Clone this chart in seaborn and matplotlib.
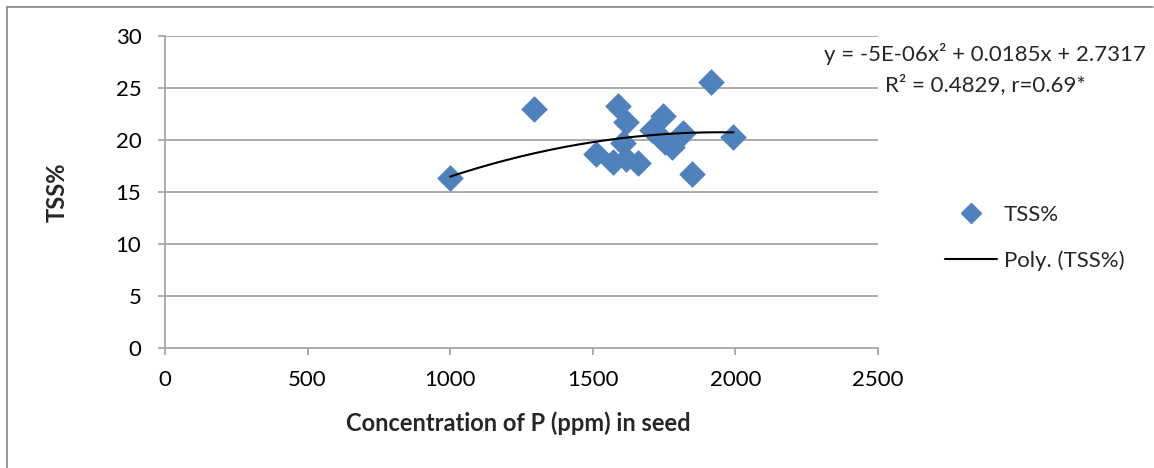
import numpy as np
import pandas as pd
import matplotlib
matplotlib.use("Agg")
import matplotlib.pyplot as plt
from matplotlib.lines import Line2D
import seaborn as sns

# Data
p_conc = [1000, 1295, 1511, 1570, 1590, 1607, 1618, 1618, 1660, 1706,
          1736, 1745, 1753, 1777, 1817, 1847, 1915, 1993]
tss = [16.3, 23.0, 18.7, 17.9, 23.3, 19.7, 21.7, 18.2, 17.75, 21.0,
       20.3, 22.3, 19.8, 19.3, 20.7, 16.7, 25.6, 20.25]

# Polynomial trendline coefficients (as drawn in the reference: a, b, c)
trend_coef = [-4.75e-06, 0.0185, 2.7317]

x_ticks = [0, 500, 1000, 1500, 2000, 2500]
y_ticks = [0, 5, 10, 15, 20, 25, 30]
x_label = "Concentration of P (ppm) in seed"
y_label = "TSS%"
eq_text = "y = -5E-06x² + 0.0185x + 2.7317\nR² = 0.4829, r=0.69*"

sns.set_theme(style="white")
plt.rcParams['font.family'] = ['Lato', 'DejaVu Sans']

FS = 16
df = pd.DataFrame({"P": p_conc, "TSS": tss})

fig = plt.figure(figsize=(11.54, 4.68), dpi=100)
ax = fig.add_axes([165/1154, 1-348/468, (878-165)/1154, (348-36)/468])

grid_c = "#a6a6a6"
for yv in y_ticks[1:]:
    ax.axhline(yv, color=grid_c, lw=1.3, zorder=0)

sns.scatterplot(data=df, x="P", y="TSS", marker="D", s=170, color="#4f81bd",
                edgecolor="#4f81bd", linewidth=0.5, ax=ax, zorder=3, legend=False)

xs = np.linspace(min(p_conc), max(p_conc), 200)
fit = pd.DataFrame({"P": xs, "TSS": np.polyval(trend_coef, xs)})
sns.lineplot(data=fit, x="P", y="TSS", color="black", lw=1.5, ax=ax, zorder=4)

ax.set_xlim(0, 2500)
ax.set_ylim(0, 30)
ax.set_xticks(x_ticks)
ax.set_yticks(y_ticks)
ax.tick_params(axis="both", labelsize=FS, colors="black", length=5, width=1.3,
               direction="out")
ax.tick_params(axis="x", color=grid_c, pad=11)
ax.tick_params(axis="y", color=grid_c, pad=12)
ax.xaxis.set_ticks_position("bottom")
ax.yaxis.set_ticks_position("left")
for s in ["top", "right"]:
    ax.spines[s].set_visible(False)
for s in ["left", "bottom"]:
    ax.spines[s].set_color(grid_c)
    ax.spines[s].set_linewidth(1.3)

ax.set_xlabel(x_label, fontsize=17, fontweight="bold")
ax.set_ylabel(y_label, fontsize=17, fontweight="bold")
ax.xaxis.set_label_coords((518-165)/713, -(423-348)/312)
ax.yaxis.set_label_coords((57-165)/713, 0.5)
ax.xaxis.label.set_va("center")
ax.yaxis.label.set_va("center")

fig.text(985/1154, 1-69/468, eq_text, ha="center", va="center", fontsize=FS,
         linespacing=1.55, multialignment="center")

handles = [
    Line2D([], [], marker="D", color="#4f81bd", linestyle="none", markersize=10),
    Line2D([], [], color="black", lw=1.5),
]
fig.legend(handles, ["TSS%", "Poly. (TSS%)"], loc="center left",
           bbox_to_anchor=(945/1154, 1-238/468), frameon=False, fontsize=FS,
           handlelength=2.35, labelspacing=1.15, handletextpad=0.3,
           borderpad=0, borderaxespad=0)

# figure border (top and left visible in reference)
fig.add_artist(Line2D([7/1154, 1153/1154], [1-7/468, 1-7/468], color="#8c8c8c", lw=1.3,
                      transform=fig.transFigure))
fig.add_artist(Line2D([7/1154, 7/1154], [1-7/468, 0], color="#8c8c8c", lw=1.3,
                      transform=fig.transFigure))

fig.savefig("out.png", dpi=100, facecolor="white")
